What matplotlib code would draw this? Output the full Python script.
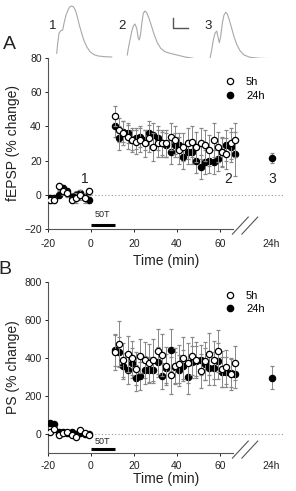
import numpy as np
import matplotlib
matplotlib.use("Agg")
import matplotlib.pyplot as plt

plt.rcParams['font.family'] = ['Liberation Sans', 'DejaVu Sans']

# time points (min); 24h point is placed after the axis break
t_base = [-19, -17, -15, -13, -11, -9, -7, -5, -3, -1]
t_post = list(range(11, 68, 2))
t_24h = 84

# panel A - fEPSP (% change)
a5_base = [-3, -3, 5, 2, 1, -3, -2, 0, -2, 2]
a5_base_err = [2, 2, 2, 2, 2, 2, 3, 3, 3, 2]
a24_base = [-2, -2, 0, 4, 2, -1, 0, 1, -1, -3]
a24_base_err = [2, 2, 2, 2, 2, 2, 2, 2, 2, 2]
a5_post = [46, 38, 36, 34, 32, 31, 32, 30, 33, 28, 30, 30, 30, 34, 32, 26,
           28, 30, 31, 28, 30, 29, 26, 32, 28, 25, 24, 30, 32]
a5_post_err = [6, 7, 7, 7, 7, 7, 7, 8, 8, 8, 8, 8, 8, 8, 8, 8,
               8, 9, 9, 9, 9, 9, 9, 10, 9, 9, 9, 9, 10]
a24_post = [40, 33, 37, 36, 32, 33, 34, 32, 36, 35, 33, 30, 29, 25, 29, 29,
            22, 25, 25, 20, 16, 19, 20, 19, 21, 25, 29, 28, 24]
a24_post_err = [6, 7, 6, 6, 6, 6, 6, 6, 7, 7, 7, 7, 7, 7, 7, 7,
                7, 7, 7, 7, 7, 7, 7, 7, 7, 8, 9, 9, 13]
a24_day, a24_day_err = 21.5, 3

# panel B - PS (% change)
b5_base = [9, 26, -5, 5, 12, -4, -14, 21, 4, -5]
b5_base_err = [8, 8, 8, 8, 8, 8, 8, 8, 8, 8]
b24_base = [56, 53, 10, 8, 5, 8, 0, 5, 2, -2]
b24_base_err = [8, 8, 8, 8, 8, 8, 8, 8, 8, 8]
b5_post = [432, 476, 388, 420, 402, 344, 409, 388, 374, 391, 435, 414, 356, 308,
           356, 367, 400, 374, 409, 388, 331, 384, 423, 391, 435, 344, 352, 314, 375]
b5_post_err = [96, 120, 90, 95, 90, 85, 90, 95, 100, 110, 120, 110, 100, 95,
               95, 100, 110, 105, 100, 95, 90, 100, 110, 100, 110, 95, 90, 85, 90]
b24_post = [440, 430, 358, 337, 373, 295, 305, 337, 337, 337, 379, 305, 345, 440,
            350, 335, 360, 300, 380, 385, 388, 370, 349, 345, 384, 326, 326, 320, 314]
b24_post_err = [80, 80, 70, 75, 80, 70, 75, 75, 70, 70, 80, 70, 75, 110,
                80, 80, 80, 90, 85, 80, 80, 85, 90, 85, 95, 80, 80, 75, 70]
b24_day, b24_day_err = 296, 60

# example traces at top (figure pixel coords)
trace1_x = [56.7, 57.7, 59, 60.7, 62.7, 64, 66, 68.3, 70, 71.7, 73.3, 75.3, 77.3,
            79.3, 81.7, 84, 86.7, 90, 94, 98.3, 105, 111.7]
trace1_y = [53.3, 43.3, 33.3, 30.7, 30, 23.3, 15, 9.3, 6.7, 6, 6.7, 10, 16.7,
            25, 33.3, 40.7, 46.7, 51.7, 54.7, 56, 56.7, 57]
trace2_x = [127.3, 128.3, 130, 131.7, 133.3, 135, 136.7, 138.3, 139.3, 140.7, 142,
            143.3, 145, 146.7, 149, 151.7, 154.3, 157.3, 160.7, 165, 170, 177, 185, 193.3]
trace2_y = [55, 48.3, 40, 31.7, 26, 24, 28.3, 38.3, 40, 33.3, 21.7,
            13.3, 11, 12.7, 18.3, 26.7, 35, 42.7, 48.3, 51.7, 53.3, 55, 57, 58.3]
trace3_x = [210, 211.7, 213.3, 215, 216.7, 218.3, 219.3, 220.7, 222.3, 224, 225.7,
            227.3, 229.3, 231.7, 234, 236.7, 240, 244, 250, 260, 273.3]
trace3_y = [58.3, 50, 40, 33.3, 31, 38.3, 42.7, 36.7, 23.3, 15, 12.3,
            14, 20, 28.3, 36.7, 44.3, 50.7, 55, 57.3, 58.3, 58.7]

W, H = 296, 491
fig = plt.figure(figsize=(W / 100, H / 100), dpi=100)

txt = '#222222'
spine = '#555555'
ecol = '#888888'


def setup(ax, ymin, ymax, yticks, ylabel, tpad, lpad):
    ax.set_xlim(-20, 90)
    ax.set_ylim(ymin, ymax)
    for s in ['top', 'right']:
        ax.spines[s].set_visible(False)
    ax.spines['left'].set_color(spine)
    ax.spines['bottom'].set_color(spine)
    ax.spines['left'].set_linewidth(0.8)
    ax.spines['bottom'].set_linewidth(0.8)
    ax.spines['bottom'].set_bounds(-20, 66)
    ax.set_yticks(yticks)
    ax.set_xticks([-20, 0, 20, 40, 60, 84])
    ax.set_xticklabels(['-20', '0', '20', '40', '60', '24h'])
    ax.tick_params(labelsize=7.5, colors=txt, length=2.5, width=0.7, pad=2)
    ax.tick_params(axis='x', pad=tpad)
    ax.xaxis.get_ticklines()[10].set_visible(False)
    ax.xaxis.get_ticklines()[11].set_visible(False)
    ax.set_xlabel('Time (min)', fontsize=10, color=txt, labelpad=lpad)
    ax.set_ylabel(ylabel, fontsize=10, color=txt, labelpad=3)
    ax.axhline(0, color='#999999', lw=0.8, ls=(0, (1, 2)), zorder=0)
    # axis break marks
    tr = ax.transAxes
    ax.plot([0.78, 0.847], [-0.03, 0.07], color=spine, lw=0.8, transform=tr, clip_on=False)
    ax.plot([0.82, 0.887], [-0.03, 0.07], color=spine, lw=0.8, transform=tr, clip_on=False)


def series(ax, x, y, e, filled):
    kw = dict(fmt='o', ms=4.5, mew=0.9, ecolor=ecol, elinewidth=0.7, capsize=1.5,
              capthick=0.7, color='black')
    if filled:
        return ax.errorbar(x, y, yerr=e, mfc='black', mec='black', zorder=3, **kw)
    return ax.errorbar(x, y, yerr=e, mfc='white', mec='black', zorder=4, **kw)


# ---- panel A ----
axA = fig.add_axes([0.162, 0.5336, 0.799, 0.3483])
setup(axA, -20, 80, [-20, 0, 20, 40, 60, 80], 'fEPSP (% change)', 5, 3)
series(axA, t_base, a24_base, a24_base_err, True)
series(axA, t_post, a24_post, a24_post_err, True)
series(axA, [t_24h], [a24_day], [a24_day_err], True)
series(axA, t_base, a5_base, a5_base_err, False)
series(axA, t_post, a5_post, a5_post_err, False)
axA.plot([0, 11], [-17.5, -17.5], color='black', lw=2.2, solid_capstyle='butt')
axA.text(5.5, -14, '50T', ha='center', va='bottom', fontsize=6.5, color=txt)
for lab, xx in [('1', -3), ('2', 63.7), ('3', 84.5)]:
    axA.text(xx, 9.5, lab, ha='center', va='center', fontsize=10, color=txt)
hA = [axA.plot([], [], 'o', ms=4.5, mfc='white', mec='black', mew=0.9)[0],
      axA.plot([], [], 'o', ms=4.5, mfc='black', mec='black')[0]]
axA.legend(hA, ['5h', '24h'], loc='upper left', bbox_to_anchor=(0.72, 0.92),
           frameon=False, fontsize=8, handletextpad=0.8, labelspacing=0.3,
           handlelength=1.2, borderpad=0)

# ---- panel B ----
axB = fig.add_axes([0.162, 0.0774, 0.799, 0.3483])
setup(axB, -100, 800, [0, 200, 400, 600, 800], 'PS (% change)', 3, 1)
series(axB, t_base, b24_base, b24_base_err, True)
series(axB, t_post, b24_post, b24_post_err, True)
series(axB, [t_24h], [b24_day], [b24_day_err], True)
series(axB, t_base, b5_base, b5_base_err, False)
series(axB, t_post, b5_post, b5_post_err, False)
axB.plot([0, 11], [-80, -80], color='black', lw=2.2, solid_capstyle='butt')
axB.text(5.5, -62, '50T', ha='center', va='bottom', fontsize=6.5, color=txt)
hB = [axB.plot([], [], 'o', ms=4.5, mfc='white', mec='black', mew=0.9)[0],
      axB.plot([], [], 'o', ms=4.5, mfc='black', mec='black')[0]]
axB.legend(hB, ['5h', '24h'], loc='upper left', bbox_to_anchor=(0.72, 0.98),
           frameon=False, fontsize=8, handletextpad=0.8, labelspacing=0.3,
           handlelength=1.2, borderpad=0)

# ---- overlay for traces and panel letters ----
ov = fig.add_axes([0, 0, 1, 1], zorder=-1)
ov.set_xlim(0, W)
ov.set_ylim(H, 0)
ov.axis('off')
for tx, ty in [(trace1_x, trace1_y), (trace2_x, trace2_y), (trace3_x, trace3_y)]:
    ov.plot(tx, ty, color='#a8a8a8', lw=0.8, solid_joinstyle='round')
ov.plot([173, 173, 188], [18, 28, 28], color='#555555', lw=1.0)
for lab, xx in [('1', 53), ('2', 122), ('3', 208)]:
    ov.text(xx, 26, lab, ha='center', va='center', fontsize=9.5, color=txt)
ov.text(9, 44, 'A', ha='center', va='center', fontsize=14, color=txt)
ov.text(5, 269, 'B', ha='center', va='center', fontsize=14, color=txt)

fig.savefig('out.png', dpi=100)
